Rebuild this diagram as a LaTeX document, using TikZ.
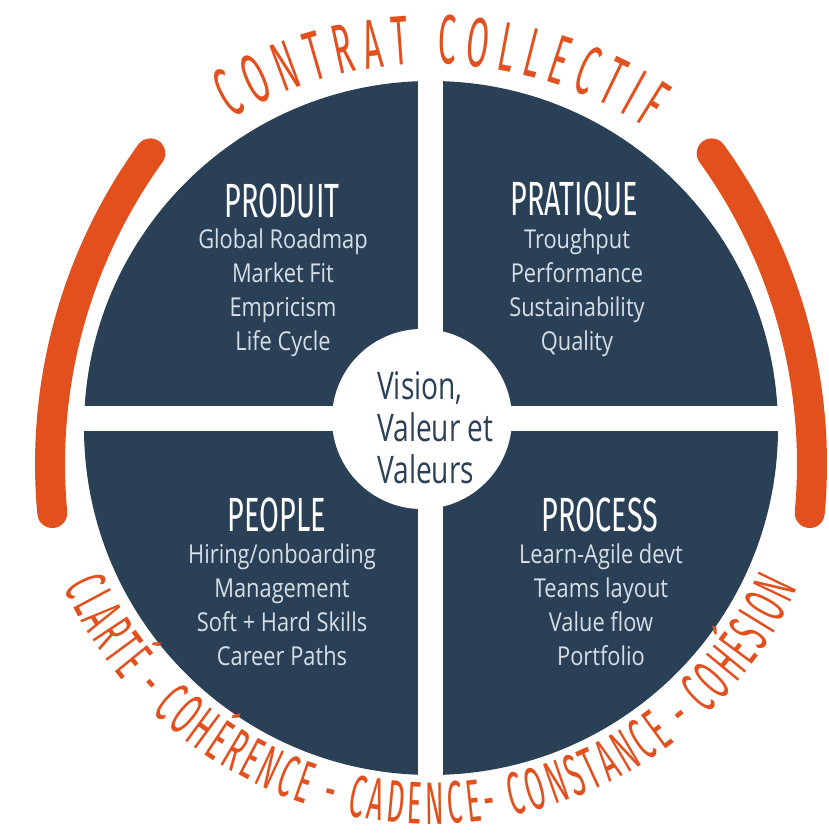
\documentclass[tikz,border=0pt]{standalone}
\usepackage{fontspec}
\usetikzlibrary{decorations.text,calc}
\setmainfont{Open Sans}
\newfontfamily\bodyfont[FakeStretch=0.84]{Open Sans}
\newfontfamily\innerfont[FakeStretch=0.74]{Open Sans}
\newfontfamily\titlefont[FakeStretch=0.6]{Fira Sans}
\newfontfamily\arcfont[FakeStretch=0.46]{Fira Sans}
\definecolor{navy}{RGB}{42,64,86}
\definecolor{orng}{RGB}{226,80,30}
\definecolor{pale}{RGB}{214,222,230}
\tikzset{
  quadtitle/.style={text=white, font=\titlefont\fontsize{48}{48}\selectfont, inner sep=0pt},
  quadbody/.style={text=pale, align=center, font=\bodyfont\fontsize{26}{34}\selectfont, inner sep=0pt},
  orangearc/.style={draw=orng, line width=30pt, line cap=round},
}
\begin{document}
\begin{tikzpicture}[x=1pt,y=1pt]
\useasboundingbox (0,0) rectangle (828,836);
\coordinate (C) at (431,408);
\fill[navy] (C) circle (347);
\fill[white] (418,50) rectangle (443,790);
\fill[white] (70,405) rectangle (790,430);
\node[circle, fill=white, minimum size=180pt, inner sep=0pt] (core) at (422,417) {};
\node[anchor=west, align=left, text=navy, inner sep=0pt, font=\innerfont\fontsize{38}{42}\selectfont] (coretext) at (377,408) {Vision,\\Valeur et\\Valeurs};

\node[quadtitle] (prodT) at (282,635) {PRODUIT};
\node[quadbody] (prodB) at (283,543) {Global Roadmap\\Market Fit\\Empricism\\Life Cycle};
\node[quadtitle] (pratT) at (574,635) {PRATIQUE};
\node[quadbody] (pratB) at (577,543) {Troughput\\Performance\\Sustainability\\Quality};
\node[quadtitle] (peopT) at (277,321) {PEOPLE};
\node[quadbody] (peopB) at (282,231) {Hiring/onboarding\\Management\\Soft + Hard Skills\\Career Paths};
\node[quadtitle] (procT) at (600,321) {PROCESS};
\node[quadbody] (procB) at (601,231) {Learn-Agile devt\\Teams layout\\Value flow\\Portfolio};

\coordinate (RC) at (281,372);
\coordinate (LC) at (581,372);
\draw[orangearc] ($(RC)+(35.8:531)$) arc[start angle=35.8, end angle=-5.3, radius=531];
\draw[orangearc] ($(LC)+(144.2:531)$) arc[start angle=144.2, end angle=185.3, radius=531];

\coordinate (TC) at (431,376);
\path[decorate, decoration={text along path, text align={fit to path},
  text={|\arcfont\fontsize{70}{70}\selectfont\color{orng}|CONTRAT COLLECTIF}}]
  ($(TC)+(120.3:396)$) arc[start angle=120.3, end angle=56.8, radius=396];

\coordinate (BC) at (431,415);
\path[decorate, decoration={text along path, text align={fit to path},
  text={|\arcfont\fontsize{60}{60}\selectfont\color{orng}|CLARTÉ - COHÉRENCE - CADENCE- CONSTANCE - COHÉSION}}]
  ($(BC)+(204.4:403)$) arc[start angle=204.4, end angle=335.6, radius=403];
\end{tikzpicture}
\end{document}
